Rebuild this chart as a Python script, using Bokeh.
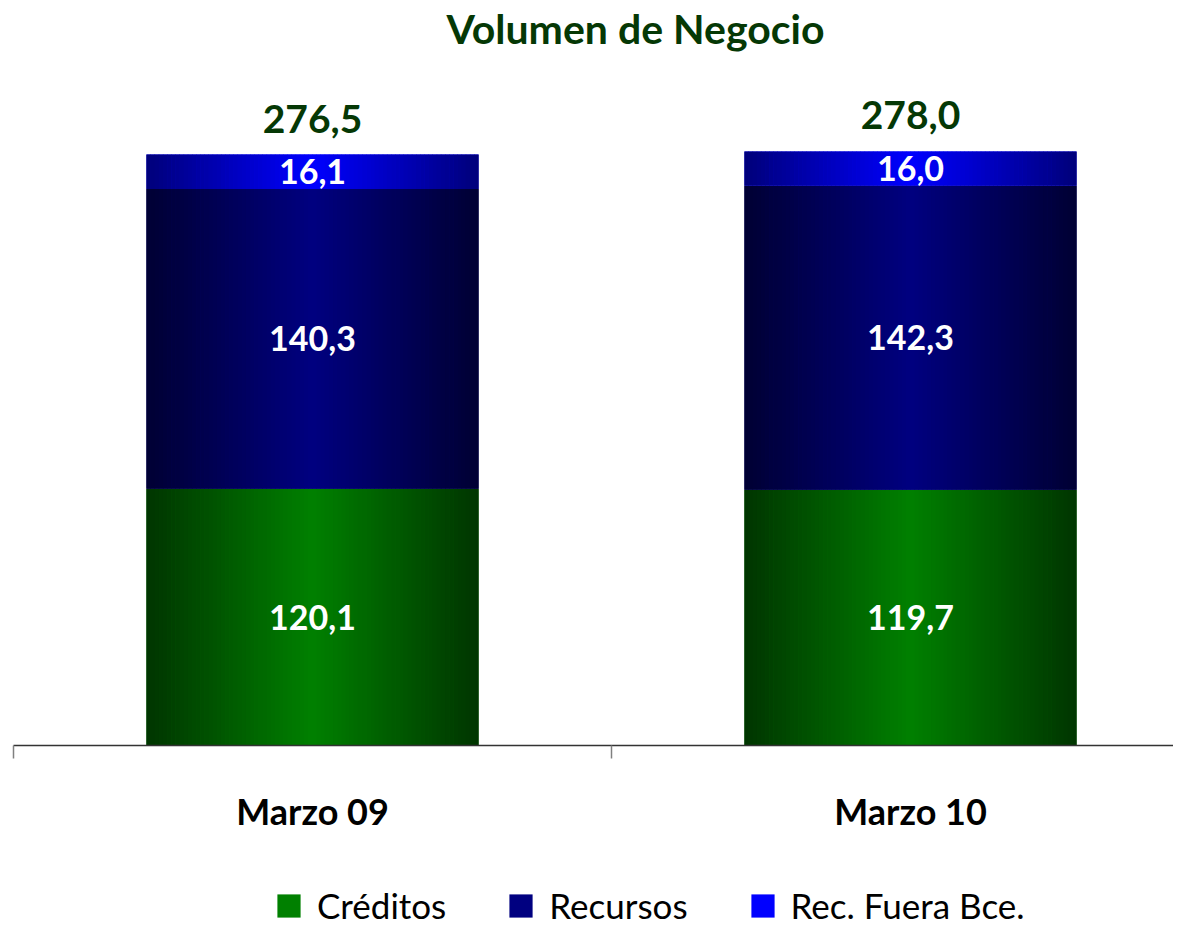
import numpy as np
from bokeh.plotting import figure
from bokeh.models import Range1d, Legend, LegendItem, ColumnDataSource, Label
from bokeh.core.properties import value
from bokeh.embed import file_html
from bokeh.resources import INLINE

# ---------------- data ----------------
categories = ["Marzo 09", "Marzo 10"]
creditos = [120.1, 119.7]
recursos = [140.3, 142.3]
rec_fuera = [16.1, 16.0]
totales = [276.5, 278.0]
series_labels = ["Créditos", "Recursos", "Rec. Fuera Bce."]
title_text = "Volumen de Negocio"

# ---------------- style / layout ----------------
FONT = "Lato"
center_colors = ["#008000", "#000080", "#0000ff"]
edge_colors = ["#003500", "#000033", "#00007a"]
DARK_GREEN = "#053805"
W, H = 1173, 926
AXIS_PX = 745          # pixel row of the category axis
LEFT_PX = 13           # pixel column of the first category boundary
CAT_PX = 598           # pixel width of one category
PX_PER_UNIT = 2.137    # vertical pixels per data unit
BAR_W = 0.555
N_STRIPS = 80
TICK_PX = 13


def hex2rgb(h):
    h = h.lstrip("#")
    return np.array([int(h[i:i + 2], 16) for i in (0, 2, 4)], dtype=float)


def mix(c1, c2, t):
    a, b = hex2rgb(c1), hex2rgb(c2)
    c = a + (b - a) * t
    return "#%02x%02x%02x" % tuple(int(round(v)) for v in c)


def fmt(v):
    return f"{v:.1f}".replace(".", ",")


x_pos = [i + 0.5 for i in range(len(categories))]

p = figure(width=W, height=H, output_backend="svg", toolbar_location=None, title=None,
           x_range=Range1d(-LEFT_PX / CAT_PX, (W - LEFT_PX) / CAT_PX),
           y_range=Range1d(-(H - AXIS_PX) / PX_PER_UNIT, AXIS_PX / PX_PER_UNIT),
           x_axis_location=None, y_axis_location=None, min_border=0)
p.xgrid.visible = False
p.ygrid.visible = False
p.outline_line_color = None
p.background_fill_color = "white"
p.border_fill_color = "white"

stacks = [creditos, recursos, rec_fuera]
bottoms = np.zeros(len(categories))
renderers = []
for k, vals in enumerate(stacks):
    vals = np.array(vals, dtype=float)
    tops = bottoms + vals
    src = ColumnDataSource(dict(x=x_pos, bottom=bottoms, top=tops))
    r = p.vbar(x="x", width=BAR_W, bottom="bottom", top="top", source=src,
               fill_color=center_colors[k], line_color=None)
    renderers.append(r)
    xs, bs, ts, cs = [], [], [], []
    for i in range(len(categories)):
        for j in range(N_STRIPS):
            u = (j + 0.5) / N_STRIPS
            t = 1 - abs(2 * u - 1)
            xs.append(x_pos[i] - BAR_W / 2 + u * BAR_W)
            bs.append(bottoms[i])
            ts.append(tops[i])
            cs.append(mix(edge_colors[k], center_colors[k], t))
    p.vbar(x=xs, width=BAR_W / N_STRIPS + 0.0008, bottom=bs, top=ts,
           fill_color=cs, line_color=None)
    p.text(x=x_pos, y=list((bottoms + tops) / 2), text=[fmt(v) for v in vals],
           text_color="white", text_font=value(FONT), text_font_style="bold",
           text_font_size="34px", text_align="center", text_baseline="middle")
    bottoms = tops

# totals above bars
p.text(x=x_pos, y=totales, text=[fmt(v) for v in totales], y_offset=-36,
       text_color=DARK_GREEN, text_font=value(FONT), text_font_style="bold",
       text_font_size="39px", text_align="center", text_baseline="middle")

# category axis: baseline, boundary ticks and labels
n = len(categories)
p.segment(x0=[0], y0=[0], x1=[n], y1=[0], line_color="#333333", line_width=1.5)
p.segment(x0=list(range(n + 1)), y0=[0] * (n + 1), x1=list(range(n + 1)),
          y1=[-TICK_PX / PX_PER_UNIT] * (n + 1), line_color="#808080", line_width=1.5)
p.text(x=x_pos, y=[0] * n, text=categories, y_offset=65,
       text_color="black", text_font=value(FONT), text_font_style="bold",
       text_font_size="36px", text_align="center", text_baseline="middle")

# title
p.add_layout(Label(x=635, y=H - 28, x_units="screen", y_units="screen", text=title_text,
                   text_color=DARK_GREEN, text_font=FONT, text_font_style="bold",
                   text_font_size="41px", text_align="center", text_baseline="middle"))

legend = Legend(items=[LegendItem(label=series_labels[k], renderers=[renderers[k]])
                       for k in range(len(series_labels))],
                location=(274, 0), orientation="horizontal",
                label_text_font=FONT, label_text_font_size="35px", label_text_color="black",
                glyph_width=29, glyph_height=29, label_standoff=14, spacing=60,
                padding=0, margin=0, border_line_color=None, background_fill_alpha=0)
p.add_layout(legend)

open("out.html", "w").write(file_html(p, INLINE))
